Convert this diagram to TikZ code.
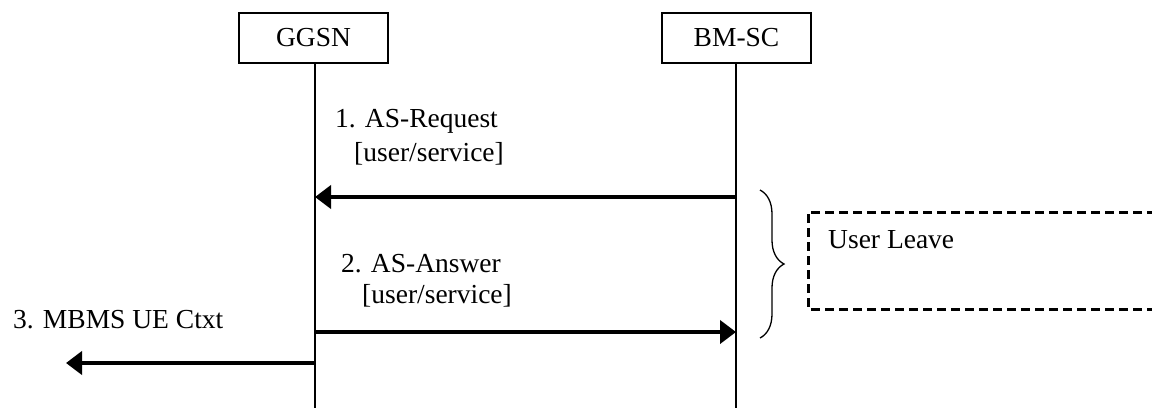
\documentclass[tikz,border=0pt]{standalone}
\usepackage{fontspec}
\setmainfont{Liberation Serif}
\usetikzlibrary{arrows.meta,decorations.pathreplacing}
\begin{document}
\begin{tikzpicture}[x=1pt,y=-1pt,
  every node/.style={font=\fontsize{27.5}{32}\selectfont, inner sep=0pt},
  entity/.style={draw, line width=1.3pt, minimum width=149pt, minimum height=50pt},
  life/.style={line width=1.3pt},
  msg/.style={line width=4pt, -{Triangle[length=16pt,width=23pt]}, shorten >=0pt},
  lbl/.style={anchor=base west},
  dashbox/.style={line width=3pt, dash pattern=on 9pt off 5pt}
]
\useasboundingbox (0,0) rectangle (1152,408);
% entities
\node[entity] (ggsn) at (313.5,38) {GGSN};
\node[entity] (bmsc) at (736.5,38) {BM-SC};
\coordinate (gend) at (315,408);
\coordinate (bend) at (736,408);
\draw[life] (ggsn.south -| gend) -- (gend);
\draw[life] (bmsc.south -| bend) -- (bend);
% message points
\coordinate (b1) at (736,197);
\coordinate (g1) at (315,197);
\coordinate (g2) at (315,332);
\coordinate (b2) at (736,332);
\coordinate (g3) at (315,363);
\coordinate (x3) at (66,363);
\draw[msg] (b1) -- (g1);
\draw[msg] (g2) -- (b2);
\draw[msg] (g3) -- (x3);
% labels
\node[lbl] (l1a) at (335,127) {1. AS-Request};
\node[lbl] (l1b) at (354,161) {[user/service]};
\node[lbl] (l2a) at (341,272) {2. AS-Answer};
\node[lbl] (l2b) at (362,303) {[user/service]};
\node[lbl] (l3) at (13,328) {3. MBMS UE Ctxt};
% brace and dashed box
\coordinate (bt) at (760,190);
\coordinate (bb) at (760,338);
\draw[line width=1.3pt, decorate, decoration={brace, amplitude=24pt, aspect=0.5}] (bt) -- (bb);
\draw[dashbox] (1170,212) -- (808,212) -- (808,309) -- (1170,309);
\node[lbl] (ul) at (828,248) {User Leave};
\end{tikzpicture}
\end{document}
